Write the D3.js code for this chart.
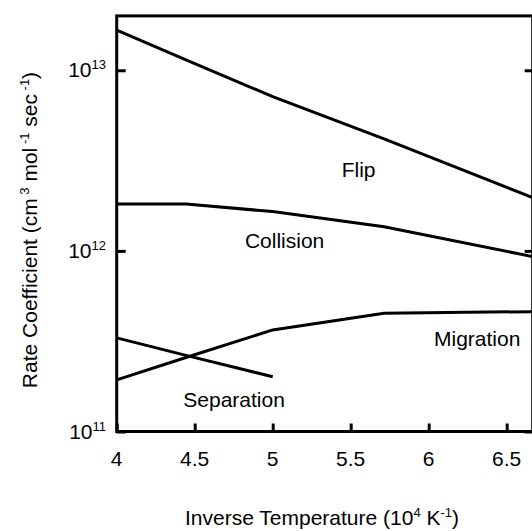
<!DOCTYPE html>
<html lang="en">
<head>
<meta charset="utf-8">
<title>Rate coefficients</title>
<script src="https://d3js.org/d3.v7.min.js"></script>
<style>
  body { margin: 0; background: #fff; }
  text { font-family: Arial, "Liberation Sans", sans-serif; fill: #000; }
</style>
</head>
<body>
<script>
// inverse temperature (10^4 / K)
var invT = [4, 4.444, 5, 5.714, 6.667];
var flip = [1.67e13, 1.14e13, 7.15e12, 4.17e12, 1.97e12];
var collision = [1.82e12, 1.82e12, 1.65e12, 1.36e12, 9.3e11];
var migration = [1.93e11, 2.57e11, 3.65e11, 4.52e11, 4.61e11];
var separation = [3.30e11, 2.64e11, 2.01e11];

var xTicks = [4, 4.5, 5, 5.5, 6, 6.5];
var xTickLabels = ["4", "4.5", "5", "5.5", "6", "6.5"];
var yTicks = [1e11, 1e12, 1e13];
var yTickExp = ["11", "12", "13"];

var curveNames = ["Flip", "Collision", "Migration", "Separation"];
var labelX = [5.442, 4.822, 6.034, 4.427];
var labelY = [2.56e12, 1.04e12, 2.96e11, 1.37e11];

var W = 532, H = 531;
var svg = d3.select("body").append("svg")
    .attr("width", W).attr("height", H);

var x = d3.scaleLinear().domain([4, 6.6667]).range([116.7, 532.7]);
var y = d3.scaleLog().domain([1e11, 2e13]).range([431.5, 15.9]);

var line = d3.line()
    .x(function(d) { return x(d[0]); })
    .y(function(d) { return y(d[1]); });

var series = [flip, collision, migration, separation];
series.forEach(function(s) {
    svg.append("path")
        .datum(s.map(function(v, i) { return [invT[i], v]; }))
        .attr("d", line)
        .attr("fill", "none")
        .attr("stroke", "#000")
        .attr("stroke-width", 3);
});

// axes
var gx = svg.append("g").attr("transform", "translate(0," + y(1e11) + ")")
    .call(d3.axisBottom(x).tickValues(xTicks).tickSizeInner(-8).tickSizeOuter(0).tickFormat(""));
var gl = svg.append("g").attr("transform", "translate(" + x(4) + ",0)")
    .call(d3.axisLeft(y).tickValues(yTicks).tickSizeInner(-9).tickSizeOuter(0).tickFormat(""));
var gr = svg.append("g").attr("transform", "translate(" + x(6.6667) + ",0)")
    .call(d3.axisRight(y).tickValues(yTicks).tickSizeInner(-8).tickSizeOuter(0).tickFormat(""));
[gx, gl, gr].forEach(function(g) {
    g.selectAll("line").attr("stroke", "#000").attr("stroke-width", 3);
    g.select(".domain").remove();
});

// frame
svg.append("rect")
    .attr("x", x(4)).attr("y", y(2e13))
    .attr("width", x(6.6667) - x(4)).attr("height", y(1e11) - y(2e13))
    .attr("fill", "none").attr("stroke", "#000").attr("stroke-width", 3);

// x tick labels
svg.selectAll(".xl").data(xTicks).enter().append("text")
    .attr("x", function(d) { return x(d); })
    .attr("y", 466)
    .attr("text-anchor", "middle")
    .attr("font-size", 21)
    .text(function(d, i) { return xTickLabels[i]; });

// y tick labels 10^n
yTicks.forEach(function(d, i) {
    var t = svg.append("text")
        .attr("x", 106)
        .attr("y", y(d) + 7)
        .attr("text-anchor", "end")
        .attr("font-size", 21);
    t.append("tspan").text("10");
    t.append("tspan").attr("font-size", 13).attr("dy", -8).text(yTickExp[i]);
});

// curve labels
curveNames.forEach(function(n, i) {
    svg.append("text")
        .attr("x", x(labelX[i]))
        .attr("y", y(labelY[i]))
        .attr("font-size", 21)
        .text(n);
});

// axis titles
var xt = svg.append("text")
    .attr("x", 322).attr("y", 525)
    .attr("text-anchor", "middle")
    .attr("font-size", 21);
xt.append("tspan").text("Inverse Temperature (10");
xt.append("tspan").attr("font-size", 13).attr("dy", -8).text("4");
xt.append("tspan").attr("dy", 8).text(" K");
xt.append("tspan").attr("font-size", 13).attr("dy", -8).text("-1");
xt.append("tspan").attr("dy", 8).text(")");

var yt = svg.append("text")
    .attr("transform", "translate(37," + 230 + ") rotate(-90)")
    .attr("text-anchor", "middle")
    .attr("font-size", 21);
yt.append("tspan").text("Rate Coefficient (cm");
yt.append("tspan").attr("font-size", 13).attr("dy", -8).text(" 3");
yt.append("tspan").attr("dy", 8).text(" mol");
yt.append("tspan").attr("font-size", 13).attr("dy", -8).text(" -1");
yt.append("tspan").attr("dy", 8).text(" sec");
yt.append("tspan").attr("font-size", 13).attr("dy", -8).text(" -1");
yt.append("tspan").attr("dy", 8).text(")");
</script>
</body>
</html>
